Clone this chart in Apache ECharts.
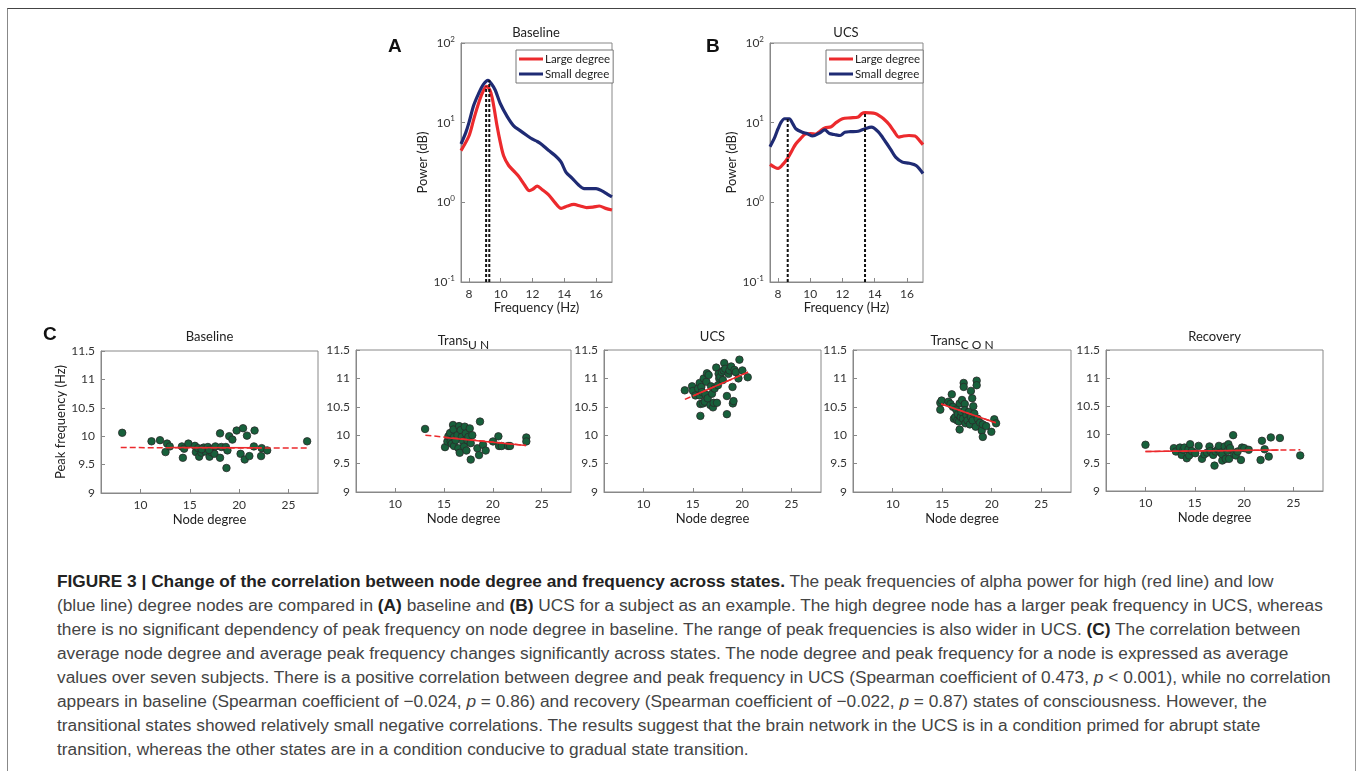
<!DOCTYPE html>
<html>
<head>
<meta charset="utf-8">
<script src="https://cdn.jsdelivr.net/npm/echarts@6/dist/echarts.min.js"></script>
<style>
  html, body { margin: 0; padding: 0; background: #fff; }
  #wrap { position: relative; width: 1357px; height: 771px; overflow: hidden; }
  #frame { position: absolute; left: 7px; top: 8px; width: 1347px; height: 800px;
    border-top: 1px solid #444; border-left: 1px solid #888; border-right: 1px solid #999; }
  #chart { position: absolute; left: 0; top: 0; width: 1357px; height: 560px; }
  #caption { position: absolute; left: 57px; top: 569px; font-family: "Liberation Sans", Arial, sans-serif;
    font-size: 17.3px; line-height: 24px; color: #444; white-space: nowrap; }
  #caption b { color: #222; }
</style>
</head>
<body>
<div id="wrap">
<div id="frame"></div>
<div id="chart"></div>
<div id="caption">
<div><b>FIGURE 3 | Change of the correlation between node degree and frequency across states.</b> The peak frequencies of alpha power for high (red line) and low</div>
<div>(blue line) degree nodes are compared in <b>(A)</b> baseline and <b>(B)</b> UCS for a subject as an example. The high degree node has a larger peak frequency in UCS, whereas</div>
<div>there is no significant dependency of peak frequency on node degree in baseline. The range of peak frequencies is also wider in UCS. <b>(C)</b> The correlation between</div>
<div>average node degree and average peak frequency changes significantly across states. The node degree and peak frequency for a node is expressed as average</div>
<div>values over seven subjects. There is a positive correlation between degree and peak frequency in UCS (Spearman coefficient of 0.473, <i>p</i> &lt; 0.001), while no correlation</div>
<div>appears in baseline (Spearman coefficient of &minus;0.024, <i>p</i> = 0.86) and recovery (Spearman coefficient of &minus;0.022, <i>p</i> = 0.87) states of consciousness. However, the</div>
<div>transitional states showed relatively small negative correlations. The results suggest that the brain network in the UCS is in a condition primed for abrupt state</div>
<div>transition, whereas the other states are in a condition conducive to gradual state transition.</div>
</div>
</div>
<script>
// ---- panel A: baseline spectra
var baseLargeF = [7.5, 8.0, 8.3, 8.5, 8.7, 8.9, 9.1, 9.3, 9.45, 9.6, 9.76, 9.97, 10.18, 10.5, 10.8, 11.1, 11.5, 11.8, 12.0, 12.3, 12.6, 13.0, 13.4, 13.8, 14.2, 14.6, 15.0, 15.4, 15.8, 16.2, 16.6, 17.0];
var baseLargeP = [4.46, 6.8, 11, 15, 20, 25, 28.5, 26, 21, 14.5, 9.3, 5.7, 3.85, 2.9, 2.5, 2.15, 1.65, 1.4, 1.45, 1.6, 1.45, 1.25, 1.0, 0.84, 0.9, 0.94, 0.9, 0.86, 0.87, 0.9, 0.84, 0.8];
var baseSmallF = [7.5, 7.8, 8.0, 8.3, 8.6, 8.9, 9.2, 9.4, 9.65, 9.97, 10.4, 10.8, 11.2, 11.65, 12.0, 12.3, 12.6, 13.0, 13.4, 13.8, 14.1, 14.5, 14.9, 15.25, 15.6, 16.0, 16.4, 16.7, 17.0];
var baseSmallP = [5.4, 7.5, 10, 16.5, 23, 30, 34, 31, 25.7, 17.4, 12, 9.2, 8.0, 6.9, 6.2, 5.8, 5.3, 4.5, 3.9, 3.2, 2.4, 2.0, 1.65, 1.49, 1.49, 1.49, 1.38, 1.27, 1.17];
var basePeaks = [9.08, 9.28];
var basePeakP = [28.5, 34];

// ---- panel B: UCS spectra
var ucsLargeF = [7.5, 7.8, 8.0, 8.3, 8.6, 8.9, 9.1, 9.4, 9.7, 10.0, 10.34, 10.6, 10.9, 11.3, 11.6, 12.0, 12.5, 12.98, 13.2, 13.4, 13.7, 14.03, 14.3, 14.55, 14.9, 15.2, 15.5, 15.8, 16.13, 16.5, 16.8, 17.0];
var ucsLargeP = [3.0, 2.75, 2.67, 3.0, 3.6, 4.6, 5.4, 6.3, 7.2, 7.3, 7.2, 7.8, 8.6, 8.9, 10, 11.2, 11.5, 11.8, 13.0, 13.4, 13.3, 13.0, 12.2, 11.2, 9.5, 7.8, 6.6, 6.8, 6.9, 6.8, 5.9, 5.3];
var ucsSmallF = [7.5, 7.8, 8.0, 8.2, 8.4, 8.7, 8.9, 9.1, 9.5, 9.8, 10.15, 10.57, 10.9, 11.2, 11.5, 11.85, 12.15, 12.5, 12.98, 13.4, 13.8, 14.24, 14.66, 15.0, 15.3, 15.72, 16.15, 16.57, 17.0];
var ucsSmallP = [5.0, 6.6, 8.4, 10.2, 11.2, 11.2, 9.8, 8.4, 7.6, 7.3, 6.8, 7.4, 8.1, 7.3, 7.1, 6.9, 7.6, 7.7, 7.8, 8.4, 8.8, 7.6, 5.8, 4.6, 3.7, 3.2, 3.1, 2.9, 2.3];
var ucsPeaks = [8.6, 13.4];
var ucsPeakP = [11.2, 13.4];

// ---- panel C: node degree vs peak frequency
var stateNames = ['Baseline', 'Trans{s|U N}', 'UCS', 'Trans{s|C O N}', 'Recovery'];
var blDeg = [8.15, 11.12, 11.98, 12.54, 12.7, 12.97, 14.2, 14.3, 14.43, 14.86, 15.52, 15.62, 15.85, 15.95, 16.18, 16.41, 16.6, 16.84, 17.0, 17.17, 17.33, 17.5, 17.6, 16.2, 16.95, 18.07, 18.07, 18.2, 18.66, 18.72, 18.82, 19.0, 19.32, 19.75, 20.15, 20.4, 20.57, 20.8, 21.04, 21.57, 21.5, 22.23, 22.29, 22.85, 26.9];
var blFreq = [10.06, 9.91, 9.93, 9.72, 9.87, 9.82, 9.82, 9.62, 9.78, 9.87, 9.83, 9.72, 9.79, 9.64, 9.71, 9.80, 9.73, 9.81, 9.64, 9.72, 9.78, 9.69, 9.82, 9.77, 9.76, 10.05, 9.62, 9.81, 9.81, 9.44, 9.75, 10.0, 9.94, 10.1, 9.69, 10.14, 9.59, 10.01, 9.65, 10.1, 9.82, 9.65, 9.79, 9.75, 9.91];
var unDeg = [13.07, 15.11, 15.35, 15.45, 15.63, 15.69, 15.8, 15.93, 15.97, 16.03, 16.03, 16.2, 16.38, 16.48, 16.55, 16.61, 16.72, 16.82, 16.96, 17.06, 17.13, 17.23, 17.3, 17.4, 17.5, 17.64, 17.74, 17.74, 17.9, 18.42, 18.59, 18.69, 19.0, 19.27, 20.02, 20.57, 20.64, 20.91, 21.56, 21.76, 23.43, 23.43];
var unFreq = [10.11, 9.79, 9.89, 9.98, 10.04, 9.89, 9.85, 10.18, 10.1, 9.97, 9.81, 9.91, 10.0, 9.77, 10.16, 9.69, 10.09, 9.97, 9.89, 9.80, 10.15, 10.03, 9.73, 9.91, 9.97, 10.12, 9.86, 9.57, 10.0, 9.77, 9.65, 10.24, 9.83, 9.73, 9.89, 9.98, 9.81, 9.81, 9.81, 9.81, 9.96, 9.89];
var ucsDeg = [14.19, 14.93, 15.03, 15.27, 15.54, 15.7, 15.7, 15.77, 15.77, 15.87, 15.94, 16.04, 16.11, 16.21, 16.28, 16.38, 16.44, 16.51, 16.61, 16.78, 16.85, 16.95, 17.05, 17.11, 17.21, 17.38, 17.45, 17.55, 17.62, 17.68, 17.79, 17.95, 18.05, 18.12, 18.19, 18.29, 18.46, 18.46, 18.62, 18.72, 18.89, 19.03, 19.06, 19.13, 19.23, 19.36, 19.63, 19.73, 20.03, 20.57];
var ucsFreq = [10.79, 10.86, 10.78, 10.70, 10.82, 10.92, 10.70, 10.55, 10.34, 10.85, 10.76, 10.56, 11.0, 10.59, 10.72, 10.94, 11.09, 10.65, 11.06, 10.53, 10.86, 10.73, 10.49, 10.57, 10.82, 11.19, 10.57, 10.88, 11.08, 11.0, 11.03, 11.11, 10.97, 11.14, 11.27, 11.17, 10.69, 10.37, 11.08, 11.14, 11.21, 10.85, 10.56, 10.60, 11.15, 11.11, 11.0, 11.33, 11.14, 11.02];
var conDeg = [14.81, 14.81, 14.94, 15.63, 15.84, 15.97, 16.08, 16.18, 16.32, 16.42, 16.52, 16.59, 16.69, 16.76, 16.76, 16.87, 16.93, 17.0, 17.1, 17.17, 17.17, 17.28, 17.28, 17.35, 17.45, 17.55, 17.69, 17.79, 17.9, 17.9, 18.03, 18.07, 18.14, 18.24, 18.38, 18.48, 18.48, 18.58, 18.82, 18.99, 19.1, 19.1, 19.44, 19.96, 20.26, 20.44];
var conFreq = [10.57, 10.45, 10.61, 10.59, 10.55, 10.72, 10.50, 10.29, 10.32, 10.45, 10.26, 10.37, 10.24, 10.10, 10.56, 10.32, 10.41, 10.62, 10.29, 10.92, 10.85, 10.55, 10.44, 10.21, 10.35, 10.26, 10.41, 10.19, 10.32, 10.78, 10.65, 10.26, 10.51, 10.38, 10.15, 10.96, 10.88, 10.29, 10.22, 10.08, 10.19, 9.97, 10.16, 10.06, 10.28, 10.21];
var recDeg = [10.0, 12.88, 13.09, 13.5, 13.67, 13.84, 13.95, 14.19, 14.36, 14.43, 14.53, 14.7, 15.05, 15.39, 15.73, 15.97, 16.25, 16.49, 16.59, 16.87, 17.0, 17.1, 17.35, 17.45, 17.62, 17.79, 17.79, 18.03, 18.14, 18.31, 18.41, 18.48, 18.58, 18.89, 18.99, 19.17, 19.34, 19.68, 19.79, 20.02, 20.47, 21.67, 21.81, 22.08, 22.5, 22.71, 23.63, 25.69];
var recFreq = [9.82, 9.76, 9.70, 9.77, 9.64, 9.73, 9.77, 9.58, 9.74, 9.63, 9.83, 9.71, 9.67, 9.80, 9.57, 9.65, 9.68, 9.79, 9.71, 9.64, 9.45, 9.70, 9.74, 9.80, 9.68, 9.54, 9.65, 9.79, 9.57, 9.71, 9.83, 9.57, 9.76, 9.99, 9.65, 9.63, 9.70, 9.55, 9.77, 9.76, 9.73, 9.55, 9.89, 9.74, 9.61, 9.95, 9.94, 9.63];
// fitted lines: [x0, y0, x1, y1], full (dashed) and core (solid)
var fitFull = [[8.0, 9.80, 27.0, 9.79], [13.1, 10.0, 23.4, 9.82], [14.2, 10.63, 20.6, 11.11], [14.9, 10.55, 20.4, 10.22], [10.0, 9.70, 25.7, 9.73]];
var fitCore = [[13.0, 9.80, 22.3, 9.795], [15.0, 9.96, 23.4, 9.82], [15.0, 10.69, 20.6, 11.11], [14.9, 10.55, 20.4, 10.22], [10.0, 9.70, 23.5, 9.725]];
var degTicks = [10, 15, 20, 25];
var freqTicks = [8, 10, 12, 14, 16];

var scatterSets = [[blDeg, blFreq], [unDeg, unFreq], [ucsDeg, ucsFreq], [conDeg, conFreq], [recDeg, recFreq]];
var pairs = function(xs, ys) { return xs.map(function(x, i) { return [x, ys[i]]; }); };

var font = 'Lato, "Noto Sans", sans-serif';
var axisGray = '#888';
var txt = '#333';

var grids = [
  {left: 461, top: 43, width: 151, height: 239},
  {left: 770, top: 43, width: 153, height: 239},
  {left: 101, top: 351, width: 217, height: 142},
  {left: 356, top: 350, width: 215, height: 142},
  {left: 604, top: 350, width: 217, height: 142},
  {left: 853, top: 350, width: 218, height: 142},
  {left: 1106, top: 350, width: 217, height: 141}
];
grids.forEach(function(g) { g.show = true; g.borderColor = axisGray; g.borderWidth = 1; g.containLabel = false; });

var baseAxis = function(idx) {
  return {
    gridIndex: idx, type: 'value',
    axisLine: {show: true, onZero: false, lineStyle: {color: axisGray}},
    axisTick: {show: true, inside: true, length: 4, lineStyle: {color: axisGray}},
    axisLabel: {color: txt, fontSize: 12, fontFamily: font, margin: 6},
    splitLine: {show: false},
    nameTextStyle: {color: '#222', fontSize: 13, fontFamily: font},
    nameLocation: 'middle'
  };
};

var xAxes = [], yAxes = [], series = [], titles = [];
[0, 1].forEach(function(i) {
  var xa = baseAxis(i);
  xa.min = 7.5; xa.max = 17;
  xa.axisLabel.customValues = freqTicks;
  xa.axisTick.customValues = freqTicks;
  xa.name = 'Frequency (Hz)'; xa.nameGap = 19;
  xAxes.push(xa);
  var ya = baseAxis(i);
  ya.type = 'log'; ya.logBase = 10; ya.min = 0.1; ya.max = 100;
  ya.axisLabel.formatter = function(v) { return '10{s|' + Math.round(Math.log10(v)) + '}'; };
  ya.axisLabel.rich = {s: {fontSize: 8, color: txt, fontFamily: font, verticalAlign: 'top', padding: [0, 0, 8, 0]}};
  ya.name = 'Power (dB)'; ya.nameGap = 25;
  yAxes.push(ya);
});
for (var k = 0; k < 5; k++) {
  var xa = baseAxis(k + 2);
  xa.min = 6; xa.max = 28;
  xa.axisLabel.customValues = degTicks;
  xa.axisTick.customValues = degTicks;
  xa.name = 'Node degree'; xa.nameGap = 20;
  xAxes.push(xa);
  var ya = baseAxis(k + 2);
  ya.min = 9; ya.max = 11.5; ya.interval = 0.5;
  if (k === 0) { ya.name = 'Peak frequency (Hz)'; ya.nameGap = 29; }
  yAxes.push(ya);
}

var lineSeries = function(name, idx, xs, ys, color) {
  return {name: name, type: 'line', xAxisIndex: idx, yAxisIndex: idx, data: pairs(xs, ys),
    showSymbol: false, smooth: 0.3, lineStyle: {color: color, width: 3.2}, itemStyle: {color: color}, z: 3};
};
var peakLine = function(idx, x, p) {
  return {type: 'line', xAxisIndex: idx, yAxisIndex: idx, data: [[x, 0.1], [x, p]], showSymbol: false,
    lineStyle: {color: '#111', width: 2, type: [3, 2]}, z: 4, silent: true};
};
series.push(lineSeries('Large degree', 0, baseLargeF, baseLargeP, '#ec2a2d'));
series.push(lineSeries('Small degree', 0, baseSmallF, baseSmallP, '#1f2b74'));
series.push(peakLine(0, basePeaks[0], basePeakP[0]));
series.push(peakLine(0, basePeaks[1], basePeakP[1]));
series.push(lineSeries('Large degree', 1, ucsLargeF, ucsLargeP, '#ec2a2d'));
series.push(lineSeries('Small degree', 1, ucsSmallF, ucsSmallP, '#1f2b74'));
series.push(peakLine(1, ucsPeaks[0], ucsPeakP[0]));
series.push(peakLine(1, ucsPeaks[1], ucsPeakP[1]));

var titleStyle = {color: '#222', fontSize: 13, fontWeight: 'normal', fontFamily: font};
scatterSets.forEach(function(s, k) {
  var idx = k + 2;
  series.push({type: 'scatter', xAxisIndex: idx, yAxisIndex: idx, data: pairs(s[0], s[1]), symbolSize: 7.5,
    itemStyle: {color: '#17603b', borderColor: '#2a2a2a', borderWidth: 0.8, opacity: 1}, z: 2});
  var f = fitFull[k], c = fitCore[k];
  series.push({type: 'line', xAxisIndex: idx, yAxisIndex: idx, data: [[f[0], f[1]], [f[2], f[3]]], showSymbol: false,
    lineStyle: {color: '#ec2a2d', width: 1.5, type: [6, 3]}, z: 3, silent: true});
  series.push({type: 'line', xAxisIndex: idx, yAxisIndex: idx, data: [[c[0], c[1]], [c[2], c[3]]], showSymbol: false,
    lineStyle: {color: '#ec2a2d', width: 1.5}, z: 3, silent: true});
  var g = grids[idx];
  titles.push({text: stateNames[k], left: g.left + g.width / 2, top: 330, textAlign: 'center', padding: 0,
    textStyle: {color: '#222', fontSize: 13, fontWeight: 'normal', fontFamily: font,
      rich: {s: {fontSize: 12, color: '#222', fontFamily: font, padding: [9, 0, 0, 0]}}}});
});
titles.push({text: 'Baseline', left: 536, top: 26, textAlign: 'center', padding: 0, textStyle: titleStyle});
titles.push({text: 'UCS', left: 846, top: 26, textAlign: 'center', padding: 0, textStyle: titleStyle});
[['A', 388, 37], ['B', 706, 37], ['C', 43, 325]].forEach(function(l) {
  titles.push({text: l[0], left: l[1], top: l[2], padding: 0,
    textStyle: {color: '#111', fontSize: 19, fontWeight: 'bold', fontFamily: 'Liberation Sans, Arial'}});
});

var legendFor = function(left) {
  return {data: ['Large degree', 'Small degree'], orient: 'vertical', left: left, top: 50, itemWidth: 24, itemHeight: 3,
    itemGap: 3, icon: 'rect', padding: [3, 3, 3, 3], borderColor: '#777', borderWidth: 1, backgroundColor: '#fff',
    textStyle: {color: '#222', fontSize: 11.5, fontFamily: font, padding: [0, 0, 0, -3]}, selectedMode: false};
};

var myChart = echarts.init(document.getElementById('chart'));
myChart.setOption({
  animation: false,
  title: titles,
  legend: [legendFor(516), legendFor(826)],
  grid: grids,
  xAxis: xAxes,
  yAxis: yAxes,
  series: series
});
</script>
</body>
</html>
